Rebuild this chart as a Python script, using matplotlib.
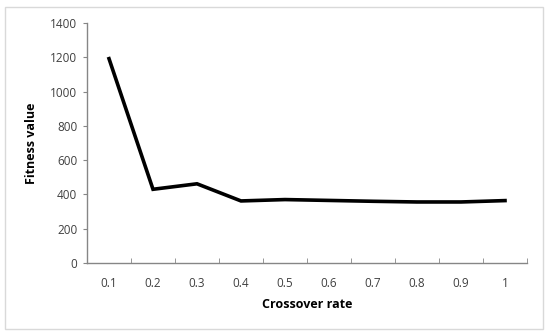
import matplotlib
matplotlib.use("Agg")
import matplotlib.pyplot as plt
from matplotlib.patches import Rectangle
from matplotlib.ticker import FixedLocator, NullFormatter

categories = ["0.1", "0.2", "0.3", "0.4", "0.5", "0.6", "0.7", "0.8", "0.9", "1"]
fitness = [1192, 430, 462, 362, 370, 365, 360, 356, 356, 364]
yticks = [0, 200, 400, 600, 800, 1000, 1200, 1400]

plt.rcParams['font.family'] = ['Open Sans', 'DejaVu Sans']

fig = plt.figure(figsize=(5.5, 3.36), dpi=100)
fig.patches.append(Rectangle((5/550, 1 - 329/336), 538/550, 322/336, transform=fig.transFigure,
                             fill=False, edgecolor="#d9d9d9", linewidth=1.0))
ax = fig.add_axes([87/550, 1 - 263/336, 440/550, 240/336])

x = list(range(len(categories)))
ax.plot(x, fitness, color="black", linewidth=2.6, solid_joinstyle="miter")

ax.set_xlim(-0.5, len(categories) - 0.5)
ax.set_ylim(0, 1400)
ax.set_yticks(yticks)
ax.set_yticklabels([str(v) for v in yticks], fontsize=8.5, color="#404040")
ax.set_xticks(x)
ax.set_xticklabels(categories, fontsize=8.5, color="#404040")
ax.tick_params(axis="x", which="major", length=0, pad=10)
ax.xaxis.set_minor_locator(FixedLocator([i - 0.5 for i in range(len(categories) + 1)]))
ax.xaxis.set_minor_formatter(NullFormatter())
ax.tick_params(axis="x", which="minor", length=3.5, color="#868686", direction="in")
ax.tick_params(axis="y", length=3, color="#868686", direction="out", pad=4)

for s in ["top", "right"]:
    ax.spines[s].set_visible(False)
for s in ["left", "bottom"]:
    ax.spines[s].set_color("#868686")
    ax.spines[s].set_linewidth(1.0)

ax.set_xlabel("Crossover rate", fontsize=9, fontweight="bold", labelpad=6)
ax.set_ylabel("Fitness value", fontsize=9, fontweight="bold", labelpad=9)

fig.savefig("out.png", dpi=100)
